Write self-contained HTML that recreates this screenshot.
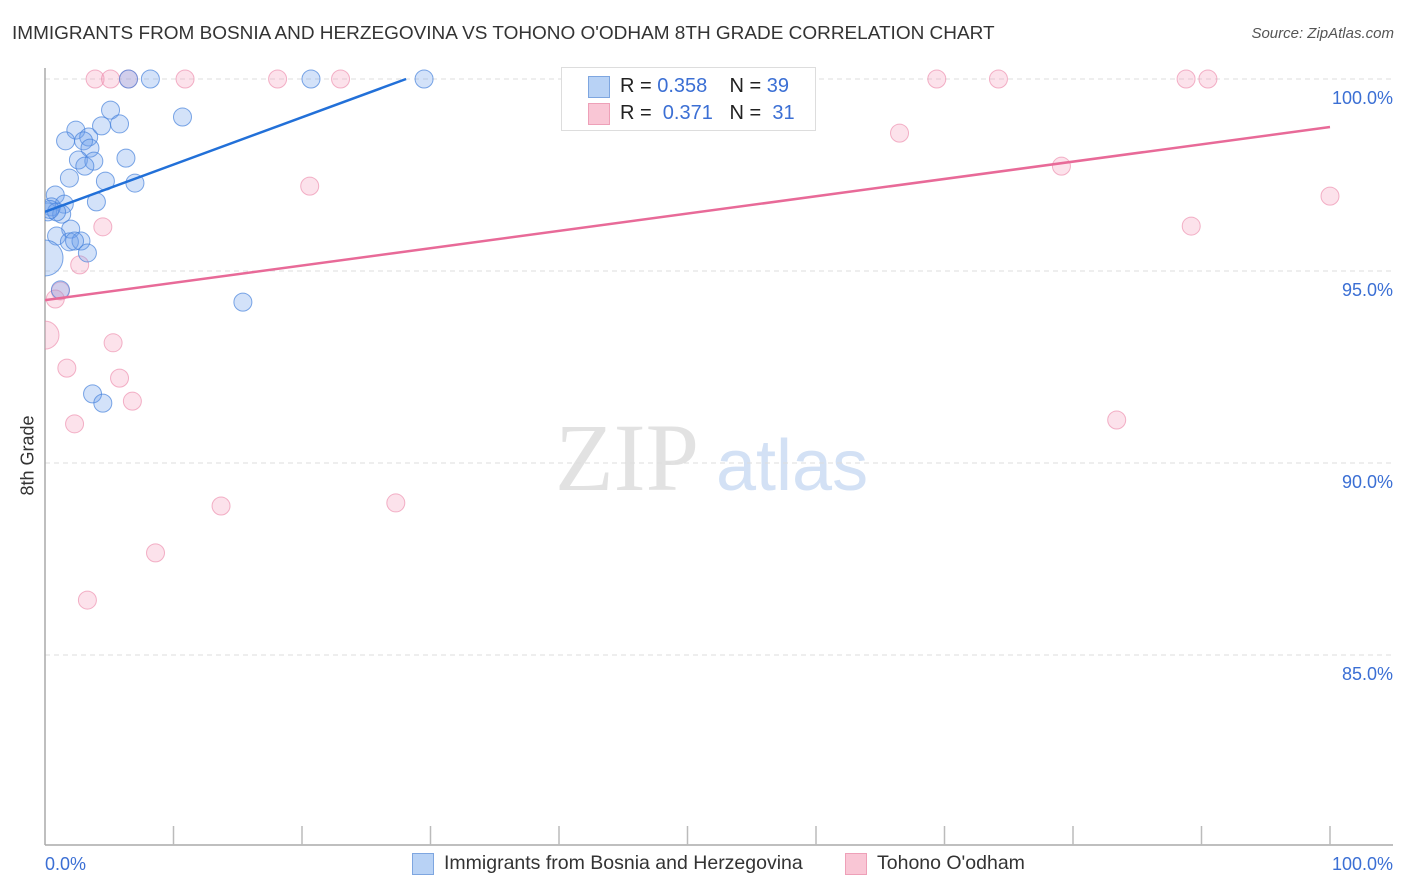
<!DOCTYPE html>
<html><head><meta charset="utf-8">
<style>
body{margin:0;background:#fff;font-family:"Liberation Sans",sans-serif;}
#wrap{position:relative;width:1406px;height:892px;overflow:hidden;}
.t{position:absolute;white-space:nowrap;}
</style></head>
<body>
<div id="wrap">
<div class="t" style="left:12px;top:23px;font-size:18px;color:#333;transform:scaleX(1.054);transform-origin:left;">IMMIGRANTS FROM BOSNIA AND HERZEGOVINA VS TOHONO O'ODHAM 8TH GRADE CORRELATION CHART</div>
<div class="t" style="right:12px;top:25px;font-size:15px;color:#555;font-style:italic;">Source: ZipAtlas.com</div>
<div class="t" style="left:-12px;top:445px;font-size:18px;color:#333;transform:rotate(-90deg);transform-origin:center;width:80px;text-align:center;">8th Grade</div>
<svg id="chart" width="1406" height="892" style="position:absolute;left:0;top:0">
<defs><clipPath id="plotclip"><rect x="45" y="50" width="1360" height="795"/></clipPath></defs>
<g id="pts" clip-path="url(#plotclip)"></g>
</svg>
<div style="position:absolute;left:561px;top:67px;width:253px;height:62px;border:1px solid #ddd;background:#fff;">
 <div style="position:absolute;left:26px;top:8px;width:20px;height:20px;background:#b8d2f5;border:1px solid #7ea6e0;"></div>
 <div class="t" style="left:58px;top:7px;font-size:20px;color:#222;">R = <span style="color:#3b6fd4">0.358</span>&nbsp;&nbsp;&nbsp; N = <span style="color:#3b6fd4">39</span></div>
 <div style="position:absolute;left:26px;top:35px;width:20px;height:20px;background:#f9c6d5;border:1px solid #eea0b8;"></div>
 <div class="t" style="left:58px;top:34px;font-size:20px;color:#222;">R = &nbsp;<span style="color:#3b6fd4">0.371</span>&nbsp;&nbsp;&nbsp;N = &nbsp;<span style="color:#3b6fd4">31</span></div>
</div>
<div style="position:absolute;left:412px;top:853px;width:20px;height:20px;background:#b8d2f5;border:1px solid #7ea6e0;"></div>
<div class="t" style="left:444px;top:852px;font-size:19.5px;color:#333;">Immigrants from Bosnia and Herzegovina</div>
<div style="position:absolute;left:845px;top:853px;width:20px;height:20px;background:#f9c6d5;border:1px solid #eea0b8;"></div>
<div class="t" style="left:877px;top:852px;font-size:19.5px;color:#333;">Tohono O'odham</div>
</div>
<script>
const yTicks=[100,95,90,85];
const yTickLabels=["100.0%","95.0%","90.0%","85.0%"];
const xTickLabels=["0.0%","100.0%"];
const blueX=[6.5,8.2,20.7,29.5,5.1,10.7,2.4,3.4,4.4,5.8,1.6,3.0,3.5,2.6,3.8,3.1,6.3,1.9,4.7,7.0,0.8,4.0,0.5,1.5,0.2,1.3,0.9,2.0,0.9,1.9,2.8,2.3,3.3,0,1.2,15.4,3.7,4.5,0.4];
const blueY=[100,100,100,100,99.19,99.01,98.67,98.49,98.78,98.83,98.39,98.39,98.2,97.89,97.86,97.73,97.94,97.42,97.34,97.29,96.98,96.8,96.67,96.74,96.54,96.48,96.54,96.09,95.91,95.76,95.78,95.78,95.47,95.34,94.51,94.19,91.8,91.56,96.6];
const blueR=[9,9,9,9,9,9,9,9,9,9,9,9,9,9,9,9,9,9,9,9,9,9,9,9,9,9,9,9,9,9,9,9,9,18,9,9,9,9,9];
const pinkX=[3.9,5.1,6.5,10.9,18.1,23.0,47.6,69.4,74.2,88.8,90.5,66.5,20.6,79.1,100,89.2,4.5,2.7,1.2,0.8,0,5.3,1.7,5.8,6.8,2.3,83.4,13.7,27.3,8.6,3.3];
const pinkY=[100,100,100,100,100,100,100,100,100,100,100,98.59,97.21,97.73,96.95,96.17,96.15,95.16,94.48,94.27,93.33,93.13,92.47,92.21,91.61,91.02,91.12,88.88,88.96,87.66,86.43];
const pinkR=[9,9,9,9,9,9,9,9,9,9,9,9,9,9,9,9,9,9,9,9,14,9,9,9,9,9,9,9,9,9,9];
const blueTrend=[0,96.54,28.1,100];
const pinkTrend=[0,94.24,100,98.75];
const X0=45,X1=1330,YTOP=79,PX_PER=38.4;
const sx=v=>X0+(X1-X0)*v/100;
const sy=v=>YTOP+(100-v)*PX_PER;
const svg=document.getElementById('chart');
const pts=document.getElementById('pts');
const NS='http://www.w3.org/2000/svg';
function mk(tag,attrs,parent){const e=document.createElementNS(NS,tag);for(const k in attrs)e.setAttribute(k,attrs[k]);(parent||svg).insertBefore(e,parent?null:pts);return e;}
let w=mk('text',{x:555,y:490,'font-size':96,'font-family':'Liberation Serif, serif',fill:'#e2e2e2'});w.textContent='ZIP';


let w2=mk('text',{x:716,y:490,'font-size':72,'font-family':'Liberation Sans, sans-serif',fill:'#d3e1f5'});w2.textContent='atlas';


yTicks.forEach((v,i)=>{
 const g=mk('line',{x1:X0,x2:1393,y1:sy(v),y2:sy(v),stroke:'#ddd','stroke-dasharray':'5,4'});
 
 
 const t=mk('text',{x:1393,y:sy(v)+25,'text-anchor':'end','font-size':18,fill:'#3b6fd4'});t.textContent=yTickLabels[i];
 
 
});
const ax=mk('line',{x1:X0,x2:X0,y1:68,y2:845,stroke:'#aaa','stroke-width':1.5});


const bx=mk('line',{x1:X0,x2:1393,y1:845,y2:845,stroke:'#aaa','stroke-width':1.5});


for(let i=1;i<=10;i++){
 const tk=mk('line',{x1:sx(i*10),x2:sx(i*10),y1:826,y2:845,stroke:'#bbb','stroke-width':1.5});
 
 
}
[[0,'start',45],[100,'end',1393]].forEach((a,i)=>{
 const t=mk('text',{x:a[2],y:870,'text-anchor':a[1],'font-size':18,fill:'#3b6fd4'});t.textContent=xTickLabels[i];
 
 
});
pinkX.forEach((x,i)=>{
 const c=mk('circle',{cx:sx(x),cy:sy(pinkY[i]),r:pinkR[i],fill:'rgba(245,160,190,0.3)',stroke:'rgba(235,130,165,0.6)','stroke-width':1},pts);
 
 
});
blueX.forEach((x,i)=>{
 const c=mk('circle',{cx:sx(x),cy:sy(blueY[i]),r:blueR[i],fill:'rgba(110,160,235,0.3)',stroke:'rgba(70,130,220,0.7)','stroke-width':1},pts);
 
 
});
const bl=mk('line',{x1:sx(blueTrend[0]),y1:sy(blueTrend[1]),x2:sx(blueTrend[2]),y2:sy(blueTrend[3]),stroke:'#2270d8','stroke-width':2.5},pts);


const pl=mk('line',{x1:sx(pinkTrend[0]),y1:sy(pinkTrend[1]),x2:sx(pinkTrend[2]),y2:sy(pinkTrend[3]),stroke:'#e86a98','stroke-width':2.5},pts);


</script>
</body></html>
